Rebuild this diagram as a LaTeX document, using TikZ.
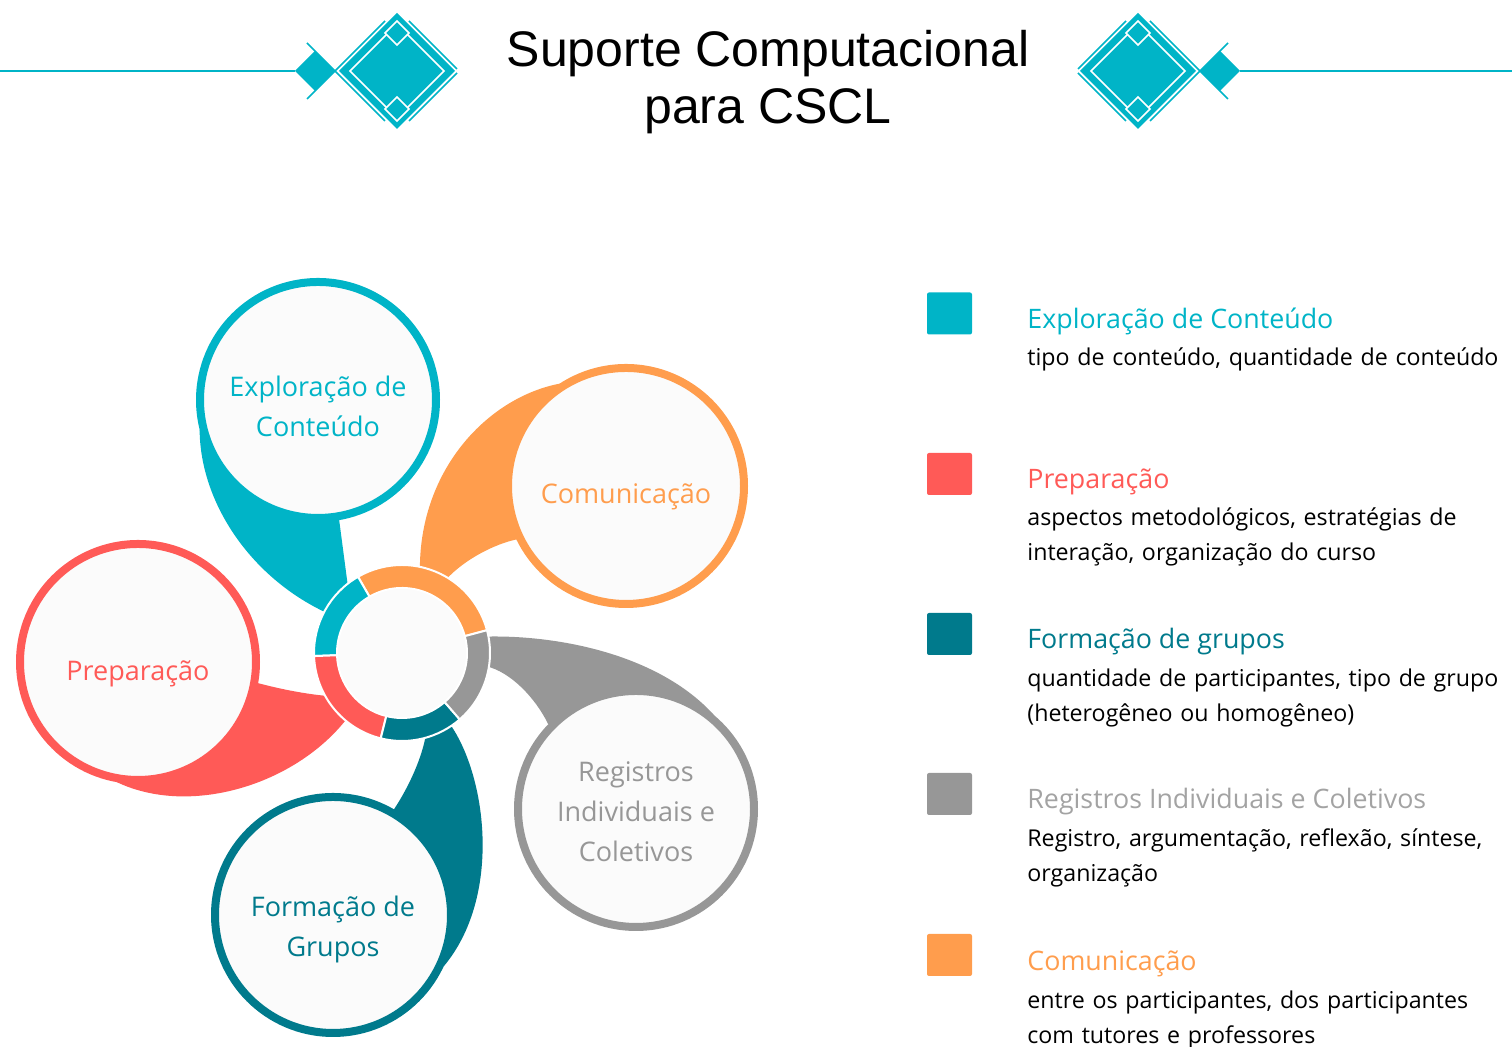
\documentclass[tikz,border=0pt]{standalone}
\usepackage{fontspec}
\setmainfont{Open Sans}
\newfontfamily\titlefont{Liberation Sans}
\usetikzlibrary{calc,positioning,backgrounds}

\definecolor{explc}{HTML}{00B4C7}
\definecolor{prepc}{HTML}{FF5A57}
\definecolor{formc}{HTML}{007A8C}
\definecolor{regc}{HTML}{979797}
\definecolor{reglight}{HTML}{A3A3A3}
\definecolor{comc}{HTML}{FF9D4D}
\definecolor{paper}{HTML}{FBFBFB}

\tikzset{
  ornament/.pic={
    \draw[explc,line width=1pt] (-400,0) -- (-102,0);
    \fill[explc] (-82,20) -- (-62,0) -- (-82,-20) -- (-102,0) -- cycle;
    \fill[explc] (0,58) -- (58,0) -- (0,-58) -- (-58,0) -- cycle;
    \draw[white,line width=0.8pt] (0,47) -- (47,0) -- (0,-47) -- (-47,0) -- cycle;
    \filldraw[explc,draw=white,line width=0.8pt] (0,50) -- (12,38) -- (0,26) -- (-12,38) -- cycle;
    \filldraw[explc,draw=white,line width=0.8pt] (0,-26) -- (12,-38) -- (0,-50) -- (-12,-38) -- cycle;
    \draw[explc,line width=0.8pt] (12,50) -- (60,2) (12,-50) -- (60,-2)
      (-12,50) -- (-90,-28) (-12,-50) -- (-90,28);
  }
}

\begin{document}
\begin{tikzpicture}[x=0.5pt,y=0.5pt,
  bubble/.style={circle,draw=#1,line width=4pt,fill=paper,minimum size=118pt},
  bubbletext/.style={text=#1,align=center,inner sep=0pt,font=\fontsize{13.5}{20}\selectfont},
  swatch/.style={fill=#1,rounded corners=1pt,minimum width=22.5pt,minimum height=21pt,inner sep=0pt},
  swatchhead/.style={text=#1,anchor=base west,inner sep=0pt,font=\fontsize{13.4}{15}\selectfont},
  swatchtext/.style={anchor=base west,inner sep=0pt,text width=270pt,align=left,
    font=\fontsize{11.6}{17.5}\selectfont},
  heading/.style={anchor=base,inner sep=0pt,font=\titlefont\fontsize{25}{28.5}\selectfont}]
  \useasboundingbox (0,0) rectangle (1512,1047);

  % heading
  \pic at (397,976) {ornament};
  \pic[xscale=-1] at (1138,976) {ornament};
  \node[heading] (title1) at (768,980) {Suporte Computacional};
  \node[heading] (title2) at (768,923) {para CSCL};

  % bubbles
  \node[bubble=explc] (expl) at (318,647) {};
  \node[bubble=comc] (comm) at (626,561) {};
  \node[bubble=regc] (regi) at (636,238) {};
  \node[bubble=formc] (form) at (333,132) {};
  \node[bubble=prepc] (prep) at (138,385) {};
  \node[bubbletext=explc] (expl-t) at ([yshift=-3pt]expl) {Exploração de\\Conteúdo};
  \node[bubbletext=comc] (comm-t) at ([yshift=-5.5pt]comm) {Comunicação};
  \node[bubbletext=regc] (regi-t) at ([yshift=-1.5pt]regi) {Registros\\Individuais e\\Coletivos};
  \node[bubbletext=formc] (form-t) at ([yshift=-7.5pt]form) {Formação de\\Grupos};
  \node[bubbletext=prepc] (prep-t) at ([yshift=-6pt]prep) {Preparação};

  % hub
  \coordinate (hub) at (402,394);
  \fill[paper] (hub) circle[radius=65];
  \foreach \a/\b/\c in {15/120/comc,120/182/explc,182/256/prepc,256/311/formc,311/375/regc}
    \filldraw[fill=\c,draw=white,line width=1pt] ($(hub)+(\a:65)$) arc[start angle=\a,end angle=\b,radius=65]
      -- ($(hub)+(\b:88)$) arc[start angle=\b,end angle=\a,radius=88] -- cycle;

  % tails from the hub out to the bubbles
  \begin{pgfonlayer}{background}
    \fill[explc] ($(hub)+(129:86)$) -- (expl.-80) -- (expl.194)
      .. controls (200,545) and (250,470) .. ($(hub)+(152:86)$)
      arc[start angle=152,end angle=129,radius=86] -- cycle;
    \fill[comc] (comm.123) .. controls (490,650) and (420,580) .. ($(hub)+(78:86)$)
      arc[start angle=78,end angle=59,radius=86]
      .. controls (465,488) and (495,503) .. (comm.206) -- cycle;
    \fill[regc] ($(hub)+(11:86)$) .. controls (560,412) and (660,392) .. (regi.50)
      -- (regi.136) .. controls (535,350) and (510,375) .. ($(hub)+(-9:86)$)
      arc[start angle=-9,end angle=11,radius=86] -- cycle;
    \fill[formc] ($(hub)+(-56:86)$) .. controls (487,270) and (502,150) .. (form.-25)
      -- (form.60) .. controls (410,262) and (422,290) .. ($(hub)+(-74:86)$)
      arc[start angle=-74,end angle=-56,radius=86] -- cycle;
    \fill[prepc] ($(hub)+(-150:86)$) .. controls (305,353) and (280,358) .. (prep.-10)
      -- (prep.-100) .. controls (190,230) and (295,262) .. ($(hub)+(-130:86)$)
      arc[start angle=-130,end angle=-150,radius=86] -- cycle;
  \end{pgfonlayer}

  % legend
  \node[swatch=explc] (sw1) at (949.5,733.5) {};
  \node[swatchhead=explc] (head1) at (1027,718) {Exploração de Conteúdo};
  \node[swatchtext] (text1) at (1027,681) {tipo de conteúdo, quantidade de conteúdo};

  \node[swatch=prepc] (sw2) at (949.5,573) {};
  \node[swatchhead=prepc] (head2) at (1027,558) {Preparação};
  \node[swatchtext] (text2) at (1027,521) {aspectos metodológicos, estratégias de\\interação, organização do curso};

  \node[swatch=formc] (sw3) at (949.5,413) {};
  \node[swatchhead=formc] (head3) at (1027,398) {Formação de grupos};
  \node[swatchtext] (text3) at (1027,360) {quantidade de participantes, tipo de grupo\\(heterogêneo ou homogêneo)};

  \node[swatch=regc] (sw4) at (949.5,253) {};
  \node[swatchhead=reglight] (head4) at (1027,238) {Registros Individuais e Coletivos};
  \node[swatchtext] (text4) at (1027,200) {Registro, argumentação, reflexão, síntese,\\organização};

  \node[swatch=comc] (sw5) at (949.5,92) {};
  \node[swatchhead=comc] (head5) at (1027,76) {Comunicação};
  \node[swatchtext] (text5) at (1027,38) {entre os participantes, dos participantes\\com tutores e professores};
\end{tikzpicture}
\end{document}
